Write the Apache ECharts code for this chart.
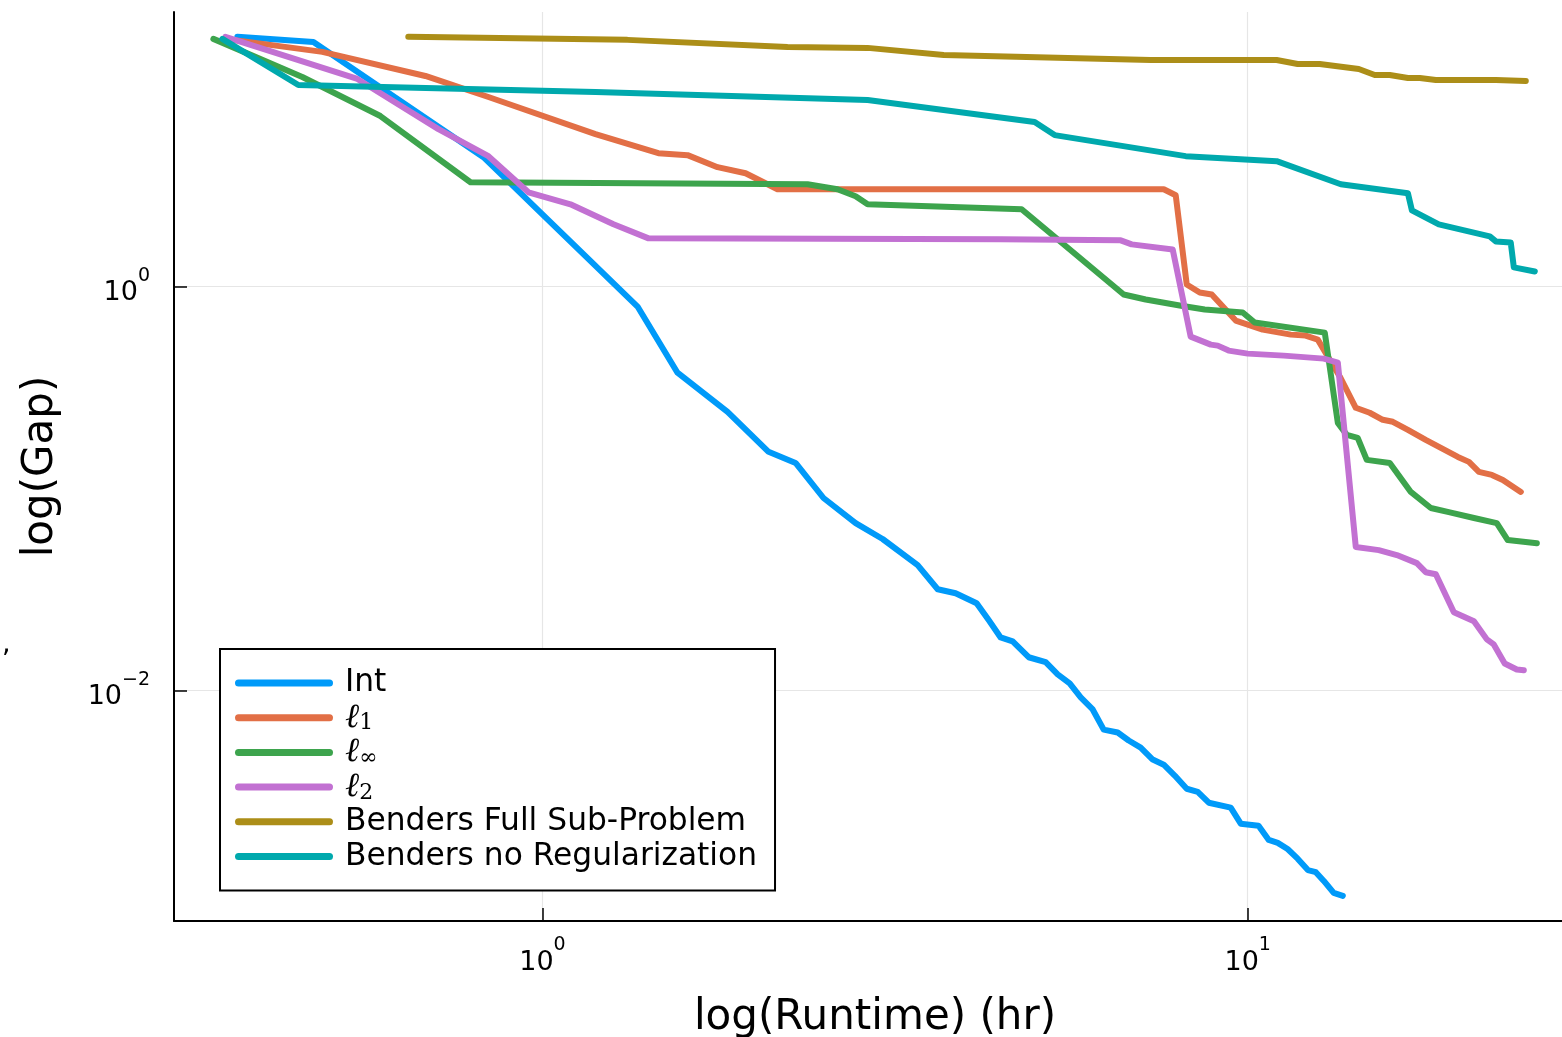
<!DOCTYPE html>
<html><head><meta charset="utf-8">
<script src="https://cdn.jsdelivr.net/npm/echarts@6/dist/echarts.min.js"></script>
<style>html,body{margin:0;padding:0;background:#fff}#c{width:1562px;height:1037px}</style>
</head><body><div id="c"></div>
<script>
// ---- data (runtime in hours, gap) ----
const intTime = [0.3693,0.4734,0.8247,1.364,1.554,1.830,2.092,2.285,2.503,2.780,3.036,3.404,3.634,3.853,4.127,4.292,4.463,4.642,4.891,5.170,5.377,5.592,5.797,6.028,6.248,6.541,6.780,7.051,7.333,7.602,7.879,8.194,8.494,8.806,9.460,9.774,10.36,10.71,11.03,11.39,11.77,12.17,12.49,12.82,13.24,13.64];
const intGap = [17.21,16.25,4.367,0.7956,0.3743,0.2397,0.1518,0.1338,0.0897,0.0674,0.0562,0.0417,0.0317,0.0303,0.0270,0.0223,0.0183,0.0175,0.0146,0.0138,0.0120,0.01083,0.00923,0.00805,0.00640,0.00619,0.00565,0.00521,0.00455,0.00429,0.00379,0.00326,0.00315,0.00278,0.00263,0.00219,0.00214,0.00182,0.00176,0.00164,0.00147,0.00129,0.00126,0.00114,0.000994,0.000961];

const l1Time = [0.3552,0.4874,0.6823,0.8383,1.189,1.460,1.606,1.771,1.941,2.154,7.602,7.905,8.194,8.549,8.892,9.616,10.50,11.51,12.08,12.57,13.51,14.23,14.89,15.54,16.06,16.87,17.88,19.86,20.59,21.27,22.19,23.00,24.39];
const l1Gap = [16.82,14.50,11.02,8.670,5.680,4.571,4.469,3.896,3.637,3.029,3.029,2.829,1.023,0.9338,0.9127,0.6780,0.6116,0.5776,0.5711,0.5457,0.3576,0.2509,0.2370,0.2188,0.2138,0.1951,0.1740,0.1433,0.1354,0.1208,0.1167,0.1102,0.0961];

const linfTime = [0.3415,0.4566,0.5891,0.7906,2.376,2.620,2.780,2.891,4.780,6.670,7.167,8.007,8.690,9.838,10.23,12.86,13.42,13.82,14.32,14.75,15.90,17.03,18.18,19.28,20.93,22.55,23.37,25.70];
const linfGap = [16.82,10.89,6.978,3.282,3.208,3.029,2.797,2.552,2.411,0.9127,0.8619,0.8049,0.7689,0.7430,0.6627,0.5910,0.2113,0.1842,0.1780,0.1385,0.1338,0.0961,0.0800,0.0764,0.0714,0.0674,0.0555,0.0536];

const l2Time = [0.3552,0.5465,0.7120,0.8383,0.9553,1.0957,1.261,1.414,4.463,6.606,6.847,7.827,8.300,8.863,9.067,9.397,10.00,11.25,12.82,13.42,14.23,15.34,16.27,17.37,17.88,18.48,19.60,20.93,21.83,22.33,23.14,24.07,24.63];
const l2Gap = [17.21,10.65,6.014,4.418,2.927,2.552,2.031,1.731,1.711,1.692,1.616,1.526,0.5645,0.5155,0.5096,0.4814,0.4651,0.4546,0.4393,0.4196,0.0513,0.0495,0.0468,0.0427,0.0385,0.0376,0.0244,0.0220,0.0179,0.0169,0.0136,0.0127,0.0126];

const bfTime = [0.6453,1.320,2.226,2.891,3.706,7.285,10.99,11.77,12.65,14.37,15.14,15.90,16.87,17.54,18.48,22.48,24.79];
const bfGap = [17.21,16.63,15.35,15.18,14.01,13.23,13.23,12.64,12.64,11.94,11.15,11.15,10.77,10.77,10.53,10.53,10.41];

const bnTime = [0.3517,0.4507,1.189,2.891,4.987,5.324,8.167,10.99,13.55,16.87,17.09,18.66,22.04,22.48,23.60,23.84,25.53];
const bnGap = [16.82,9.943,9.179,8.378,6.515,5.616,4.418,4.172,3.208,2.894,2.383,2.031,1.771,1.672,1.653,1.243,1.187];

const seriesNames = ['Int','ℓ1','ℓ∞','ℓ2','Benders Full Sub-Problem','Benders no Regularization'];
const seriesColors = ['#009af9','#e26f46','#3da44d','#c271d2','#ac8e18','#00a9ad'];
const xTickValues = [1, 10];
const yTickValues = [0.01, 1];
const xRange = [0.3003, 27.90];
const yRange = [0.000722, 22.85];

// ---- build ----
const lg = Math.log10;
const allTimes = [intTime, l1Time, linfTime, l2Time, bfTime, bnTime];
const allGaps = [intGap, l1Gap, linfGap, l2Gap, bfGap, bnGap];

function pairs(t, g) {
  const n = Math.min(t.length, g.length), out = [];
  for (let i = 0; i < n; i++) out.push([lg(t[i]), lg(g[i])]);
  return out;
}
function expLabel(v) {
  const k = Math.round(v);
  return '{b|10}{s|' + (k < 0 ? '\u2212' + (-k) : String(k)) + '}';
}
const FONT = 'DejaVu Sans';
const tickRich = {
  b: { fontSize: 27, fontFamily: FONT, color: '#000', lineHeight: 40, verticalAlign: 'bottom' },
  s: { fontSize: 19, fontFamily: FONT, color: '#000', lineHeight: 20, verticalAlign: 'top' }
};

const chart = echarts.init(document.getElementById('c'), null, { renderer: 'canvas' });
chart.setOption({
  animation: false,
  backgroundColor: '#fff',
  grid: { left: 174, right: 0, top: 12, bottom: 116, containLabel: false, outerBoundsMode: 'none' },
  xAxis: {
    type: 'value', min: lg(xRange[0]), max: lg(xRange[1]),
    name: 'log(Runtime) (hr)', nameLocation: 'middle', nameGap: 76,
    nameTextStyle: { fontSize: 42, fontFamily: FONT, color: '#000', padding: [0, 0, 0, 14] },
    axisLine: { show: true, onZero: false, lineStyle: { color: '#000', width: 2 } },
    axisTick: { show: true, inside: true, length: 13, customValues: xTickValues.map(lg), lineStyle: { color: '#000', width: 1.5 } },
    axisLabel: { customValues: xTickValues.map(lg), formatter: expLabel, margin: 15, rich: tickRich },
    splitLine: { show: true, lineStyle: { color: '#e6e6e6', width: 1.2 } }
  },
  yAxis: {
    type: 'value', min: lg(yRange[0]), max: lg(yRange[1]),
    name: 'log(Gap)', nameLocation: 'middle', nameGap: 112,
    nameTextStyle: { fontSize: 42, fontFamily: FONT, color: '#000' },
    axisLine: { show: true, onZero: false, lineStyle: { color: '#000', width: 2 } },
    axisTick: { show: true, inside: true, length: 13, customValues: yTickValues.map(lg), lineStyle: { color: '#000', width: 1.5 } },
    axisLabel: { customValues: yTickValues.map(lg), formatter: expLabel, margin: 24, rich: tickRich },
    splitLine: { show: true, lineStyle: { color: '#e6e6e6', width: 1.2 } }
  },
  legend: {
    data: seriesNames, orient: 'vertical', left: 220, top: 649,
    itemWidth: 98, itemHeight: 7, itemGap: 0.7,
    icon: 'path://M3.5,0H94.5A3.5,3.5,0,0,1,94.5,7H3.5A3.5,3.5,0,0,1,3.5,0Z',
    padding: [17, 18, 17, 15],
    borderColor: '#000', borderWidth: 2, backgroundColor: '#fff',
    selectedMode: false,
    formatter: function (name) {
      if (name.charAt(0) === 'ℓ') return '{l|ℓ}{sub|' + name.slice(1) + '}';
      return '{t|' + name + '}';
    },
    textStyle: {
      fontSize: 31, fontFamily: FONT, color: '#000', lineHeight: 34, padding: [0, 0, 0, 7],
      rich: {
        t: { fontSize: 31.3, fontFamily: FONT, color: '#000', lineHeight: 34 },
        l: { fontSize: 34, fontFamily: 'DejaVu Serif', fontStyle: 'italic', color: '#000', lineHeight: 34, verticalAlign: 'top' },
        sub: { fontSize: 22, fontFamily: 'DejaVu Serif', color: '#000', lineHeight: 34, verticalAlign: 'bottom' }
      }
    }
  },
  graphic: [
    { type: 'text', left: 2, top: 631, style: { text: ',', font: '27px "DejaVu Sans"', fill: '#000' } }
  ],
  series: seriesNames.map((n, i) => ({
    name: n, type: 'line', showSymbol: false, symbol: 'none',
    color: seriesColors[i],
    lineStyle: { width: 6, color: seriesColors[i], cap: 'round', join: 'round' },
    data: pairs(allTimes[i], allGaps[i])
  }))
});
</script>
</body></html>
